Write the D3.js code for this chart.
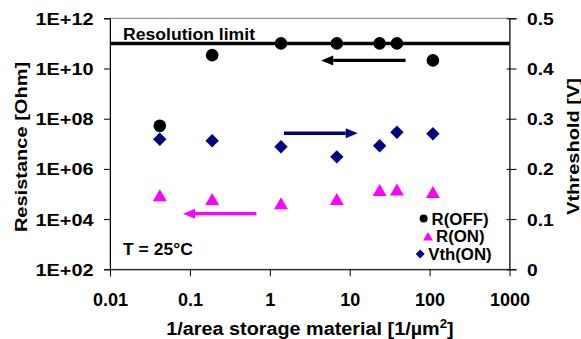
<!DOCTYPE html>
<html>
<head>
<meta charset="utf-8">
<script src="https://cdn.jsdelivr.net/npm/d3@7"></script>
<style>
  body { margin: 0; background: #fff; }
  svg { display: block; font-family: "Liberation Sans", Arial, sans-serif; font-weight: bold; }
</style>
</head>
<body>
<div id="chart"></div>
<script>
// data
const area = [0.042, 0.19, 1.38, 6.9, 23.7, 39, 110];          // 1/area [1/um^2]
const rOff = [5.2e7, 3.4e10, 1e11, 1e11, 1e11, 1e11, 2.1e10];  // Ohm
const rOn = [9e4, 6.3e4, 4.3e4, 6.3e4, 1.45e5, 1.5e5, 1.2e5];  // Ohm
const vthOn = [0.259, 0.256, 0.244, 0.224, 0.246, 0.273, 0.270]; // V
const resolutionLimit = 1e11;
const xTicks = [0.01, 0.1, 1, 10, 100, 1000];
const yTicks = [1e2, 1e4, 1e6, 1e8, 1e10, 1e12];
const vTicks = [0, 0.1, 0.2, 0.3, 0.4, 0.5];
// arrows: from -> to, on the resistance (left) or voltage (right) axis
const arrowFrom = [50, 1.5, 0.68];
const arrowTo = [4.4, 12.6, 0.082];
const arrowY = [2.1e10, 0.271, 1.65e4];
const arrowAxis = ["left", "right", "left"];
const legendNames = ["R(OFF)", "R(ON)", "Vth(ON)"];

const W = 581, H = 339;
const margin = { left: 110, right: 71.5, top: 18.3, bottom: 69.7 };
const colors = { off: "#000000", on: "#FF00FF", vth: "#000080" };

const svg = d3.select("#chart").append("svg").attr("width", W).attr("height", H);

const x = d3.scaleLog().domain([0.01, 1000]).range([margin.left, W - margin.right]);
const y = d3.scaleLog().domain([1e2, 1e12]).range([H - margin.bottom, margin.top]);
const yv = d3.scaleLinear().domain([0, 0.5]).range([H - margin.bottom, margin.top]);

// stretch text horizontally (original fonts render wider)
function stretch(sel, k) {
  sel.each(function () {
    const w = this.getComputedTextLength();
    d3.select(this).attr("textLength", w * k).attr("lengthAdjust", "spacingAndGlyphs");
  });
}

// plot frame
svg.append("rect")
  .attr("x", x.range()[0]).attr("y", y.range()[1])
  .attr("width", x.range()[1] - x.range()[0])
  .attr("height", y.range()[0] - y.range()[1])
  .attr("fill", "none").attr("stroke", "#808080").attr("stroke-width", 1);

// Left axis
const gl = svg.append("g").attr("transform", `translate(${x.range()[0]},0)`)
  .call(d3.axisLeft(y).tickValues(yTicks).tickSizeOuter(0).tickSize(6)
    .tickFormat(d => "1E+" + String(Math.round(Math.log10(d))).padStart(2, "0")));
gl.select(".domain").attr("stroke", "#000");
gl.selectAll("text").attr("font-size", 16).attr("x", -16.5).attr("dy", 6).attr("fill", "#000");
stretch(gl.selectAll("text"), 1.24);

// Right axis
const gr = svg.append("g").attr("transform", `translate(${x.range()[1]},0)`)
  .call(d3.axisRight(yv).tickValues(vTicks).tickSizeOuter(0).tickSize(7)
    .tickFormat(d => d === 0 ? "0" : d3.format(".1f")(d)));
gr.selectAll(".tick line").attr("x1", -3);
gr.selectAll("text").attr("font-size", 16).attr("x", 17.5).attr("dy", 6).attr("fill", "#000");
stretch(gr.selectAll("text"), 1.2);

// Bottom axis
const gb = svg.append("g").attr("transform", `translate(0,${y.range()[0]})`)
  .call(d3.axisBottom(x).tickValues(xTicks).tickSizeOuter(0).tickSize(7)
    .tickFormat(d => String(d)));
gb.selectAll("text").attr("font-size", 18).attr("y", 37).attr("dy", 0).attr("fill", "#000");
gb.selectAll(".tick").filter(d => d === 1000).select("line").remove();

// Axis titles
const tl = svg.append("text").attr("transform", "translate(27,147) rotate(-90)")
  .attr("text-anchor", "middle").attr("font-size", 16.3).text("Resistance [Ohm]");
stretch(tl, 1.23);
const tr = svg.append("text").attr("transform", "translate(579,146.5) rotate(-90)")
  .attr("text-anchor", "middle").attr("font-size", 16.3).text("Vthreshold [V]");
stretch(tr, 1.23);
const tb = svg.append("text").attr("x", 310).attr("y", 335)
  .attr("text-anchor", "middle").attr("font-size", 18);
tb.append("tspan").text("1/area storage material [1/µm");
tb.append("tspan").attr("font-size", 12).attr("dy", -7).text("2");
tb.append("tspan").attr("dy", 7).text("]");
stretch(tb, 1.1);

// resolution limit
svg.append("line")
  .attr("x1", x.range()[0]).attr("x2", x.range()[1])
  .attr("y1", y(resolutionLimit)).attr("y2", y(resolutionLimit))
  .attr("stroke", "#000").attr("stroke-width", 3.5);
const rl = svg.append("text").attr("x", x.range()[0] + 13).attr("y", y(resolutionLimit) - 3)
  .attr("font-size", 16).text("Resolution limit");
stretch(rl, 1.1);

const tt = svg.append("text").attr("x", x.range()[0] + 13).attr("y", 255)
  .attr("font-size", 17).text("T = 25°C");
stretch(tt, 1.03);

// arrows
arrowFrom.forEach((f, i) => {
  const sy = arrowAxis[i] === "left" ? y : yv;
  const x1 = x(f), x2 = x(arrowTo[i]), yy = sy(arrowY[i]);
  const dir = Math.sign(x2 - x1), hl = 12, hw = 5;
  const c = i === 0 ? colors.off : i === 1 ? colors.vth : colors.on;
  svg.append("line").attr("x1", x1).attr("x2", x2 - dir * hl).attr("y1", yy).attr("y2", yy)
    .attr("stroke", c).attr("stroke-width", 3.3);
  svg.append("path")
    .attr("d", `M${x2},${yy} L${x2 - dir * hl},${yy - hw} L${x2 - dir * hl},${yy + hw} Z`)
    .attr("fill", c);
});

// markers
const tri = s => `M0,${-s * 0.43} L${s / 2},${s * 0.43} L${-s / 2},${s * 0.43} Z`;
const dia = s => `M0,${-s} L${s},0 L0,${s} L${-s},0 Z`;

svg.append("g").selectAll("circle").data(area).join("circle")
  .attr("cx", d => x(d)).attr("cy", (d, i) => y(rOff[i])).attr("r", 6.3)
  .attr("fill", colors.off);
svg.append("g").selectAll("path").data(area).join("path")
  .attr("d", tri(14)).attr("transform", (d, i) => `translate(${x(d)},${y(rOn[i])})`)
  .attr("fill", colors.on);
svg.append("g").selectAll("path").data(area).join("path")
  .attr("d", dia(6.7)).attr("transform", (d, i) => `translate(${x(d)},${yv(vthOn[i])})`)
  .attr("fill", colors.vth);

// legend
const legColors = [colors.off, colors.on, colors.vth];
const legMark = [
  g => g.append("circle").attr("r", 4),
  g => g.append("path").attr("d", tri(10)),
  g => g.append("path").attr("d", dia(4.5))
];
legendNames.forEach((name, i) => {
  const g = svg.append("g");
  const t = g.append("text").attr("font-size", 16).attr("y", 224.5 + i * 17.7).text(name);
  stretch(t, 1.05);
  const tw = t.node().getComputedTextLength() * 1.05;
  const mw = 10, gap = 3, cx = 455;
  const start = cx - (mw + gap + tw) / 2;
  t.attr("x", start + mw + gap);
  const m = legMark[i](g).attr("fill", legColors[i])
    .attr("transform", `translate(${start + mw / 2},${224.5 + i * 17.7 - 6})`);
});
</script>
</body>
</html>
